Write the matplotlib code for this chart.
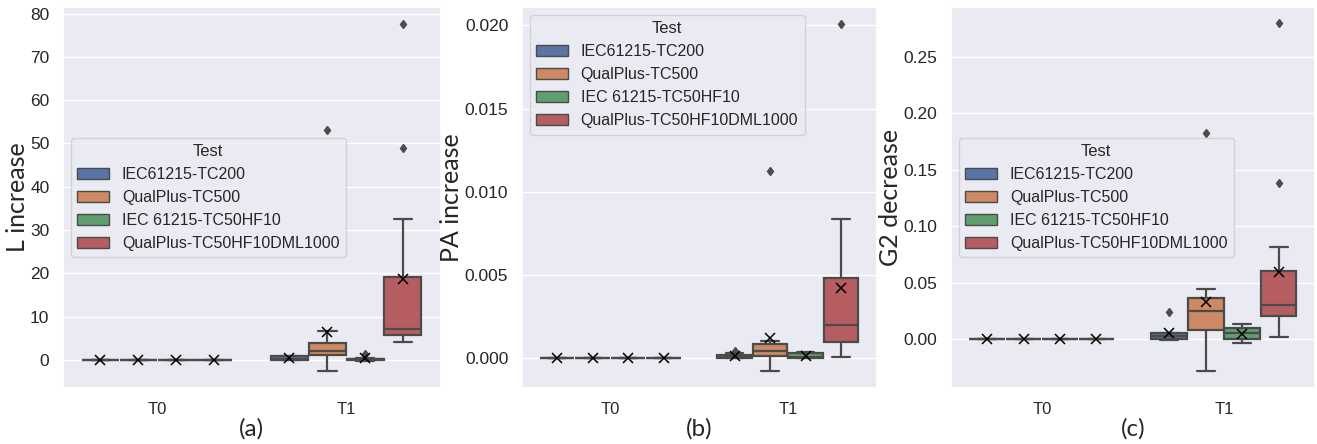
import matplotlib
matplotlib.use("Agg")
import matplotlib.pyplot as plt
import matplotlib.patches as mpatches
from matplotlib.ticker import FormatStrFormatter
import seaborn as sns

# grupos y series
times = ["T0", "T1"]
tests = ["IEC61215-TC200", "QualPlus-TC500", "IEC 61215-TC50HF10", "QualPlus-TC50HF10DML1000"]
colors = ["#5875A4", "#CC8963", "#5F9E6E", "#B55D60"]

# T0: todo en cero
t0_zero = [0.0, 0.0, 0.0, 0.0]

# (a) L increase, T1 -- estadisticos
L_whislo = [-0.1, -2.5, -0.2, 4.1]
L_q1 = [0.0, 1.1, -0.1, 5.8]
L_med = [0.3, 2.0, 0.1, 7.2]
L_q3 = [0.8, 4.0, 0.3, 19.1]
L_whishi = [1.0, 6.7, 0.5, 32.6]
L_mean = [0.4, 6.4, 0.5, 18.8]
L_fliers = [[], [53.2], [1.3], [49.0, 77.7]]

# (b) PA increase, T1
PA_whislo = [0.0, -0.00074, 0.0, 0.0001]
PA_q1 = [0.00002, 0.00014, 0.00002, 0.00096]
PA_med = [0.0001, 0.00046, 0.0001, 0.002]
PA_q3 = [0.00022, 0.00084, 0.0003, 0.00486]
PA_whishi = [0.0003, 0.00104, 0.0004, 0.00836]
PA_mean = [0.00016, 0.0012, 0.00016, 0.0042]
PA_fliers = [[0.00045], [0.01124], [], [0.0201]]

# (c) G2 decrease, T1
G2_whislo = [-0.0006, -0.0278, -0.0027, 0.0023]
G2_q1 = [0.0, 0.0088, 0.0, 0.0206]
G2_med = [0.003, 0.0253, 0.0053, 0.0304]
G2_q3 = [0.0058, 0.0368, 0.0103, 0.0607]
G2_whishi = [0.0058, 0.045, 0.014, 0.082]
G2_mean = [0.0053, 0.0327, 0.005, 0.0598]
G2_fliers = [[0.024], [0.183], [], [0.1386, 0.2797]]

sns.set_theme(style="darkgrid")
plt.rcParams["font.family"] = ["Liberation Sans", "DejaVu Sans"]

line_gray = "#4B4B4B"
offsets = [-0.3, -0.1, 0.1, 0.3]


def stats_t1(whislo, q1, med, q3, whishi, mean, fliers):
    out = []
    for i in range(4):
        out.append(dict(whislo=whislo[i], q1=q1[i], med=med[i], q3=q3[i],
                        whishi=whishi[i], mean=mean[i], fliers=fliers[i]))
    return out


def stats_t0():
    return [dict(whislo=v, q1=v, med=v, q3=v, whishi=v, mean=v, fliers=[]) for v in t0_zero]


def panel(ax, t1_stats, ylabel, letter, ylim, ticks, fmt, legend_loc):
    groups = [stats_t0(), t1_stats]
    for g, st in enumerate(groups):
        for h in range(4):
            ax.bxp([st[h]], positions=[g + offsets[h]], widths=0.196, capwidths=0.098,
                   patch_artist=True, showmeans=True, manage_ticks=False,
                   boxprops=dict(facecolor=colors[h], edgecolor=line_gray, linewidth=1.6),
                   medianprops=dict(color=line_gray, linewidth=1.6),
                   whiskerprops=dict(color=line_gray, linewidth=1.6),
                   capprops=dict(color=line_gray, linewidth=1.6),
                   meanprops=dict(marker="x", markeredgecolor="black", markersize=6.5,
                                  markeredgewidth=1.1),
                   flierprops=dict(marker="d", markerfacecolor=line_gray,
                                   markeredgecolor=line_gray, markersize=4.5))
    ax.set_xlim(-0.5, 1.5)
    ax.set_xticks([0, 1])
    ax.set_xticklabels(times, fontsize=12)
    ax.set_ylim(*ylim)
    ax.set_yticks(ticks)
    ax.yaxis.set_major_formatter(FormatStrFormatter(fmt))
    ax.tick_params(axis="y", labelsize=12.5)
    ax.tick_params(axis="x", pad=4)
    ax.set_ylabel(ylabel, fontsize=18, family=["Lato", "DejaVu Sans"], labelpad=1)
    ax.set_xlabel(letter, fontsize=17.5, family=["Lato", "DejaVu Sans"], labelpad=1)
    ax.grid(axis="x", visible=False)
    handles = [mpatches.Patch(facecolor=colors[i], edgecolor=line_gray, linewidth=1.0, label=tests[i])
               for i in range(4)]
    ax.legend(handles=handles, title="Test", loc=legend_loc, fontsize=11.5, title_fontsize=12)


fig = plt.figure(figsize=(13.17, 4.44), dpi=100)
ax1 = fig.add_axes([0.0476, 0.126, 0.287, 0.858])
ax2 = fig.add_axes([0.396, 0.126, 0.2696, 0.858])
ax3 = fig.add_axes([0.7219, 0.126, 0.2766, 0.858])

panel(ax1, stats_t1(L_whislo, L_q1, L_med, L_q3, L_whishi, L_mean, L_fliers),
      "L increase", "(a)", (-6.5, 81.5), [0, 10, 20, 30, 40, 50, 60, 70, 80], "%d", "center left")
panel(ax2, stats_t1(PA_whislo, PA_q1, PA_med, PA_q3, PA_whishi, PA_mean, PA_fliers),
      "PA increase", "(b)", (-0.00178, 0.0211), [0, 0.005, 0.010, 0.015, 0.020], "%.3f", "upper left")
panel(ax3, stats_t1(G2_whislo, G2_q1, G2_med, G2_q3, G2_whishi, G2_mean, G2_fliers),
      "G2 decrease", "(c)", (-0.043, 0.294), [0, 0.05, 0.10, 0.15, 0.20, 0.25], "%.2f", "center left")

plt.savefig("out.png", dpi=100)
